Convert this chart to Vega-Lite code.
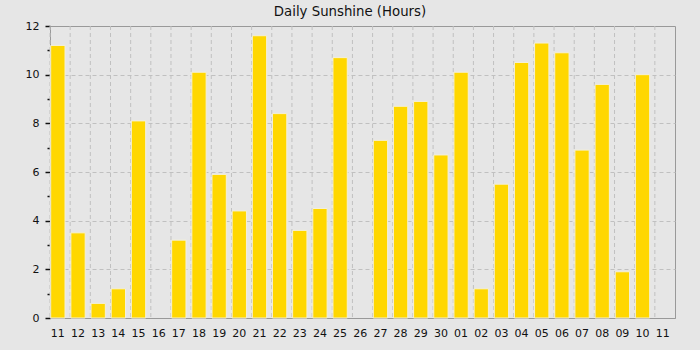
{
  "$schema": "https://vega.github.io/schema/vega-lite/v6.json",
  "autosize": "none",
  "width": 625,
  "height": 292,
  "padding": {"left": 50, "top": 26, "right": 25, "bottom": 32},
  "background": "#e6e6e6",
  "title": {"text": "Daily Sunshine (Hours)", "font": "DejaVu Sans", "fontSize": 13.3, "fontWeight": "normal", "color": "#111111", "frame": "bounds", "baseline": "alphabetic", "offset": 0, "dy": 9, "anchor": "middle"},
  "config": {
    "view": {"stroke": "#999999", "strokeWidth": 1, "fill": "#e6e6e6"},
    "axis": {"labelFont": "DejaVu Sans", "labelFontSize": 11, "labelColor": "#111111", "domainColor": "#999999", "tickColor": "#111111"}
  },
  "data": {"values": [
    {"day": "09-11", "hours": 11.2},
    {"day": "09-12", "hours": 3.5},
    {"day": "09-13", "hours": 0.6},
    {"day": "09-14", "hours": 1.2},
    {"day": "09-15", "hours": 8.1},
    {"day": "09-16", "hours": 0},
    {"day": "09-17", "hours": 3.2},
    {"day": "09-18", "hours": 10.1},
    {"day": "09-19", "hours": 5.9},
    {"day": "09-20", "hours": 4.4},
    {"day": "09-21", "hours": 11.6},
    {"day": "09-22", "hours": 8.4},
    {"day": "09-23", "hours": 3.6},
    {"day": "09-24", "hours": 4.5},
    {"day": "09-25", "hours": 10.7},
    {"day": "09-26", "hours": 0},
    {"day": "09-27", "hours": 7.3},
    {"day": "09-28", "hours": 8.7},
    {"day": "09-29", "hours": 8.9},
    {"day": "09-30", "hours": 6.7},
    {"day": "10-01", "hours": 10.1},
    {"day": "10-02", "hours": 1.2},
    {"day": "10-03", "hours": 5.5},
    {"day": "10-04", "hours": 10.5},
    {"day": "10-05", "hours": 11.3},
    {"day": "10-06", "hours": 10.9},
    {"day": "10-07", "hours": 6.9},
    {"day": "10-08", "hours": 9.6},
    {"day": "10-09", "hours": 1.9},
    {"day": "10-10", "hours": 10.0},
    {"day": "10-11", "hours": null}
  ]},
  "encoding": {
    "x": {
      "field": "day", "type": "ordinal", "sort": null,
      "scale": {"paddingInner": 0.29, "paddingOuter": 0.145, "align": 0.12},
      "axis": {"title": null, "labelAngle": 0, "ticks": false, "labelPadding": 9, "grid": false, "domain": true, "labelExpr": "slice(datum.value, 3)"}
    }
  },
  "layer": [
    {
      "mark": {"type": "rule", "stroke": "#c0c0c0", "strokeDash": [4, 3], "strokeWidth": 1, "xOffset": -0.7},
      "encoding": {"x": {"field": "day", "type": "ordinal", "sort": null, "bandPosition": 0}}
    },
    {
      "mark": {"type": "bar", "color": "#ffd700", "stroke": "#f4f0d8", "strokeWidth": 1},
      "encoding": {
        "strokeOpacity": {"condition": {"test": "datum.hours > 0", "value": 1}, "value": 0},
        "y": {
          "field": "hours", "type": "quantitative",
          "scale": {"domain": [0, 12], "nice": false},
          "axis": {
            "title": null,
            "values": [0, 1, 2, 3, 4, 5, 6, 7, 8, 9, 10, 11, 12],
            "labelExpr": "datum.value % 2 == 0 ? datum.value : ''",
            "tickSize": {"condition": {"test": "datum.value % 2 == 1", "value": 3}, "value": 5},
            "tickWidth": 1.5,
            "labelPadding": 6,
            "grid": true,
            "gridColor": "#c0c0c0",
            "gridDash": [4, 3],
            "gridOpacity": {"condition": {"test": "datum.value % 2 == 1 || datum.value == 0 || datum.value == 12", "value": 0}, "value": 1}
          }
        }
      }
    }
  ]
}
